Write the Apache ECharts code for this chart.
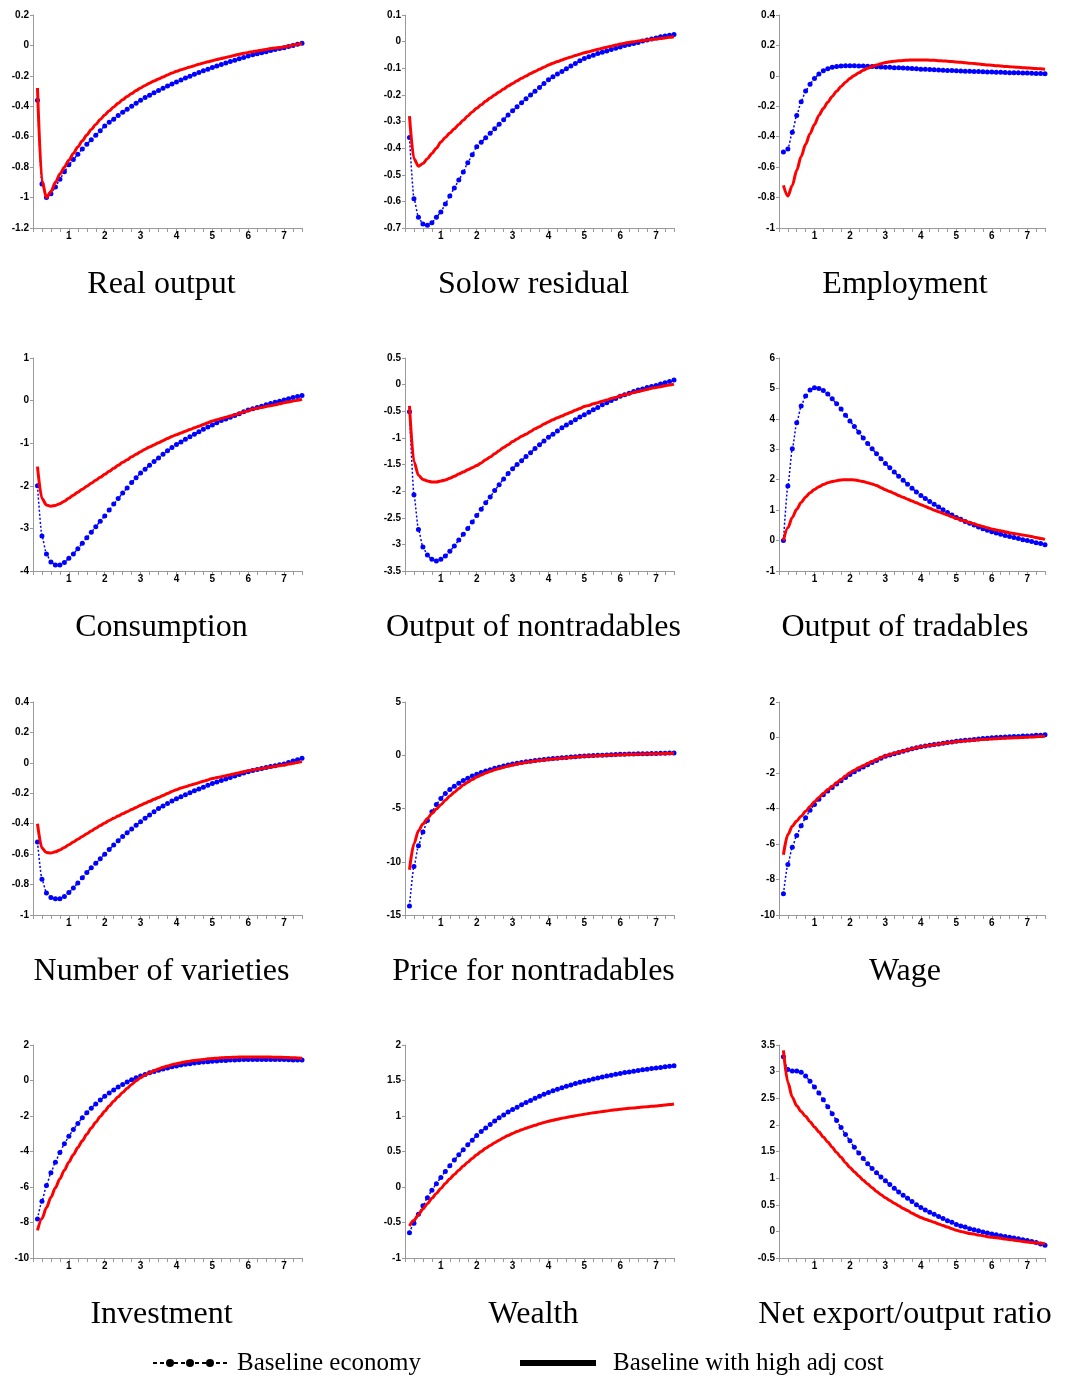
<!DOCTYPE html>
<html>
<head>
<meta charset="utf-8">
<script src="https://cdn.jsdelivr.net/npm/echarts@6/dist/echarts.min.js"></script>
<style>
html,body{margin:0;padding:0;background:#fff;}
#chart{width:1070px;height:1379px;}
</style>
</head>
<body>
<div id="chart"></div>
<script>
// Horizon (years)
const xs = [0.125,0.25,0.375,0.5,0.625,0.75,0.875,1,1.125,1.25,1.375,1.5,1.625,1.75,1.875,2,2.125,2.25,2.375,2.5,2.625,2.75,2.875,3,3.125,3.25,3.375,3.5,3.625,3.75,3.875,4,4.125,4.25,4.375,4.5,4.625,4.75,4.875,5,5.125,5.25,5.375,5.5,5.625,5.75,5.875,6,6.125,6.25,6.375,6.5,6.625,6.75,6.875,7,7.125,7.25,7.375,7.5];
const xTickLabels = ['1','2','3','4','5','6','7'];

const realOutputBase = [-0.36,-0.91,-1.00,-0.975,-0.93,-0.88,-0.83,-0.785,
 -0.75,-0.715,-0.68,-0.65,-0.62,-0.59,-0.56,-0.53,
 -0.505,-0.485,-0.46,-0.44,-0.42,-0.40,-0.38,-0.36,
 -0.343,-0.327,-0.311,-0.296,-0.281,-0.267,-0.253,-0.24,
 -0.227,-0.214,-0.202,-0.19,-0.178,-0.167,-0.156,-0.145,
 -0.135,-0.125,-0.115,-0.106,-0.097,-0.088,-0.079,-0.07,
 -0.062,-0.055,-0.048,-0.041,-0.034,-0.027,-0.021,-0.015,
 -0.007,0.0,0.008,0.015];
const realOutputHigh = [-0.28,-0.89,-1.0,-0.96,-0.90,-0.845,-0.80,-0.755,
 -0.71,-0.667,-0.627,-0.589,-0.553,-0.519,-0.487,-0.457,
 -0.43,-0.404,-0.38,-0.357,-0.336,-0.316,-0.297,-0.279,
 -0.263,-0.248,-0.234,-0.22,-0.207,-0.194,-0.182,-0.17,
 -0.16,-0.151,-0.142,-0.133,-0.124,-0.116,-0.108,-0.10,
 -0.093,-0.086,-0.079,-0.072,-0.065,-0.058,-0.052,-0.046,
 -0.041,-0.036,-0.031,-0.026,-0.021,-0.017,-0.013,-0.01,
 -0.004,0.002,0.008,0.013];

const solowBase = [-0.36,-0.59,-0.66,-0.685,-0.69,-0.68,-0.66,-0.64,
 -0.61,-0.58,-0.55,-0.52,-0.49,-0.455,-0.425,-0.395,
 -0.378,-0.361,-0.344,-0.327,-0.31,-0.293,-0.276,-0.26,
 -0.245,-0.23,-0.215,-0.2,-0.186,-0.172,-0.157,-0.143,
 -0.132,-0.122,-0.112,-0.102,-0.092,-0.082,-0.072,-0.063,
 -0.057,-0.051,-0.045,-0.04,-0.035,-0.03,-0.025,-0.02,
 -0.015,-0.011,-0.007,-0.003,0.002,0.006,0.01,0.014,
 0.018,0.021,0.024,0.027];
const solowHigh = [-0.28,-0.44,-0.468,-0.458,-0.44,-0.42,-0.40,-0.377,
 -0.36,-0.343,-0.327,-0.311,-0.295,-0.279,-0.264,-0.25,
 -0.237,-0.224,-0.212,-0.2,-0.189,-0.178,-0.167,-0.157,
 -0.147,-0.138,-0.129,-0.12,-0.112,-0.104,-0.096,-0.088,
 -0.081,-0.075,-0.069,-0.063,-0.058,-0.052,-0.047,-0.042,
 -0.038,-0.033,-0.029,-0.025,-0.021,-0.017,-0.013,-0.009,
 -0.006,-0.003,0.0,0.002,0.004,0.006,0.008,0.01,
 0.012,0.014,0.016,0.018];

const employmentBase = [-0.50,-0.48,-0.37,-0.26,-0.17,-0.10,-0.055,-0.018,
 0.012,0.033,0.047,0.056,0.061,0.064,0.066,0.066,
 0.066,0.065,0.064,0.063,0.062,0.06,0.059,0.057,
 0.056,0.054,0.053,0.051,0.05,0.048,0.046,0.044,
 0.043,0.041,0.04,0.039,0.037,0.036,0.035,0.033,
 0.032,0.031,0.03,0.029,0.028,0.027,0.026,0.025,
 0.024,0.023,0.022,0.021,0.02,0.02,0.019,0.018,
 0.017,0.016,0.015,0.014];
const employmentHigh = [-0.72,-0.79,-0.72,-0.62,-0.53,-0.45,-0.38,-0.32,
 -0.26,-0.215,-0.173,-0.135,-0.101,-0.07,-0.042,-0.017,
 0.003,0.021,0.037,0.05,0.062,0.072,0.08,0.087,
 0.092,0.096,0.099,0.101,0.103,0.104,0.105,0.105,
 0.104,0.103,0.102,0.1,0.098,0.096,0.094,0.091,
 0.089,0.086,0.083,0.081,0.078,0.075,0.072,0.07,
 0.067,0.065,0.062,0.06,0.058,0.056,0.054,0.052,
 0.05,0.048,0.046,0.044];

const consumptionBase = [-2.0,-3.18,-3.6,-3.79,-3.86,-3.86,-3.8,-3.7,
 -3.6,-3.48,-3.35,-3.22,-3.09,-2.96,-2.83,-2.71,
 -2.57,-2.43,-2.30,-2.17,-2.05,-1.92,-1.81,-1.70,
 -1.61,-1.52,-1.43,-1.35,-1.26,-1.18,-1.10,-1.03,
 -0.97,-0.91,-0.85,-0.79,-0.73,-0.67,-0.62,-0.57,
 -0.52,-0.47,-0.43,-0.39,-0.35,-0.31,-0.26,-0.22,
 -0.19,-0.16,-0.13,-0.1,-0.07,-0.04,-0.015,0.016,
 0.045,0.07,0.095,0.12];
const consumptionHigh = [-1.55,-2.3,-2.45,-2.48,-2.46,-2.42,-2.36,-2.29,
 -2.22,-2.15,-2.08,-2.01,-1.94,-1.87,-1.8,-1.73,
 -1.66,-1.59,-1.52,-1.45,-1.39,-1.32,-1.26,-1.2,
 -1.14,-1.09,-1.04,-0.99,-0.94,-0.89,-0.84,-0.8,
 -0.76,-0.72,-0.68,-0.64,-0.6,-0.56,-0.52,-0.48,
 -0.45,-0.42,-0.39,-0.36,-0.33,-0.3,-0.27,-0.24,
 -0.2,-0.18,-0.16,-0.14,-0.12,-0.1,-0.075,-0.05,
 -0.03,-0.01,0.01,0.03];

const nontradOutBase = [-0.51,-2.07,-2.72,-3.05,-3.2,-3.28,-3.31,-3.28,
 -3.22,-3.13,-3.03,-2.92,-2.81,-2.70,-2.58,-2.46,
 -2.34,-2.22,-2.11,-1.99,-1.88,-1.77,-1.67,-1.58,
 -1.5,-1.43,-1.35,-1.28,-1.2,-1.13,-1.06,-0.99,
 -0.93,-0.87,-0.81,-0.76,-0.71,-0.66,-0.61,-0.565,
 -0.52,-0.47,-0.43,-0.38,-0.34,-0.3,-0.26,-0.22,
 -0.19,-0.16,-0.13,-0.1,-0.08,-0.055,-0.035,-0.015,
 0.01,0.035,0.06,0.085];
const nontradOutHigh = [-0.4,-1.45,-1.7,-1.78,-1.81,-1.83,-1.83,-1.81,
 -1.79,-1.76,-1.72,-1.68,-1.64,-1.6,-1.56,-1.52,
 -1.47,-1.41,-1.36,-1.3,-1.24,-1.18,-1.13,-1.07,
 -1.02,-0.97,-0.93,-0.88,-0.83,-0.79,-0.74,-0.7,
 -0.66,-0.62,-0.59,-0.55,-0.52,-0.48,-0.45,-0.41,
 -0.39,-0.36,-0.34,-0.31,-0.29,-0.26,-0.24,-0.21,
 -0.19,-0.17,-0.15,-0.13,-0.11,-0.09,-0.07,-0.054,
 -0.038,-0.022,-0.006,0.01];

const tradOutBase = [0.0,1.79,3.02,3.87,4.42,4.75,4.95,5.02,
 5.0,4.93,4.82,4.66,4.5,4.32,4.12,3.93,
 3.75,3.56,3.37,3.19,3.02,2.85,2.69,2.53,
 2.39,2.25,2.11,1.98,1.85,1.72,1.6,1.48,
 1.38,1.28,1.19,1.1,1.01,0.92,0.84,0.76,
 0.7,0.63,0.57,0.51,0.45,0.39,0.34,0.29,
 0.25,0.21,0.17,0.13,0.1,0.07,0.03,0.0,
 -0.03,-0.07,-0.1,-0.14];
const tradOutHigh = [0.0,0.42,0.76,1.03,1.25,1.43,1.57,1.68,
 1.77,1.84,1.9,1.94,1.97,1.99,2.0,2.0,
 1.99,1.97,1.94,1.9,1.86,1.81,1.74,1.67,
 1.61,1.55,1.48,1.42,1.36,1.3,1.24,1.18,
 1.12,1.06,1.0,0.95,0.89,0.84,0.78,0.73,
 0.68,0.64,0.59,0.55,0.5,0.46,0.42,0.38,
 0.35,0.32,0.29,0.26,0.23,0.21,0.18,0.16,
 0.13,0.1,0.07,0.04];

const varietiesBase = [-0.52,-0.765,-0.855,-0.885,-0.893,-0.893,-0.878,-0.852,
 -0.822,-0.79,-0.755,-0.72,-0.69,-0.66,-0.63,-0.6,
 -0.57,-0.54,-0.512,-0.484,-0.459,-0.434,-0.41,-0.387,
 -0.364,-0.342,-0.321,-0.3,-0.283,-0.267,-0.251,-0.236,
 -0.223,-0.21,-0.197,-0.184,-0.172,-0.16,-0.148,-0.136,
 -0.126,-0.116,-0.106,-0.096,-0.086,-0.077,-0.067,-0.058,
 -0.051,-0.044,-0.037,-0.03,-0.024,-0.019,-0.013,-0.008,
 0.002,0.012,0.021,0.03];
const varietiesHigh = [-0.40,-0.56,-0.59,-0.593,-0.585,-0.572,-0.556,-0.538,
 -0.52,-0.502,-0.484,-0.466,-0.448,-0.43,-0.412,-0.395,
 -0.379,-0.364,-0.349,-0.335,-0.321,-0.307,-0.293,-0.279,
 -0.266,-0.253,-0.24,-0.227,-0.214,-0.201,-0.188,-0.176,
 -0.166,-0.157,-0.148,-0.139,-0.13,-0.121,-0.112,-0.103,
 -0.097,-0.091,-0.084,-0.078,-0.071,-0.065,-0.058,-0.052,
 -0.047,-0.042,-0.037,-0.032,-0.028,-0.023,-0.018,-0.014,
 -0.008,-0.003,0.003,0.008];

const priceNontradBase = [-14.15,-10.45,-8.5,-7.2,-6.12,-5.3,-4.62,-4.05,
 -3.6,-3.22,-2.9,-2.62,-2.38,-2.16,-1.96,-1.78,
 -1.62,-1.48,-1.35,-1.23,-1.12,-1.02,-0.92,-0.83,
 -0.76,-0.69,-0.62,-0.56,-0.5,-0.45,-0.4,-0.35,
 -0.31,-0.27,-0.23,-0.2,-0.16,-0.13,-0.1,-0.07,
 -0.05,-0.03,-0.01,0.01,0.03,0.05,0.07,0.09,
 0.1,0.11,0.12,0.13,0.14,0.15,0.16,0.17,
 0.18,0.19,0.2,0.21];
const priceNontradHigh = [-10.75,-8.3,-7.1,-6.45,-5.93,-5.48,-5.05,-4.65,
 -4.22,-3.83,-3.47,-3.12,-2.8,-2.53,-2.28,-2.05,
 -1.85,-1.67,-1.51,-1.37,-1.24,-1.12,-1.01,-0.91,
 -0.82,-0.74,-0.67,-0.6,-0.54,-0.49,-0.44,-0.39,
 -0.35,-0.31,-0.27,-0.23,-0.2,-0.16,-0.13,-0.1,
 -0.08,-0.06,-0.04,-0.02,0.0,0.02,0.03,0.05,
 0.06,0.07,0.08,0.1,0.11,0.12,0.13,0.14,
 0.15,0.16,0.17,0.18];

const wageBase = [-8.8,-7.15,-6.18,-5.52,-4.97,-4.52,-4.1,-3.77,
 -3.48,-3.23,-3.01,-2.81,-2.62,-2.44,-2.26,-2.08,
 -1.93,-1.79,-1.66,-1.53,-1.41,-1.29,-1.17,-1.06,
 -0.98,-0.91,-0.84,-0.77,-0.7,-0.64,-0.58,-0.52,
 -0.48,-0.44,-0.4,-0.36,-0.32,-0.28,-0.25,-0.21,
 -0.19,-0.16,-0.14,-0.11,-0.09,-0.06,-0.04,-0.02,
 0.0,0.01,0.03,0.04,0.05,0.06,0.08,0.09,
 0.1,0.12,0.13,0.15];
const wageHigh = [-6.6,-5.47,-5.0,-4.7,-4.43,-4.16,-3.89,-3.62,
 -3.38,-3.15,-2.94,-2.74,-2.55,-2.36,-2.17,-1.98,
 -1.84,-1.71,-1.59,-1.47,-1.35,-1.24,-1.13,-1.03,
 -0.96,-0.89,-0.82,-0.76,-0.7,-0.64,-0.58,-0.52,
 -0.48,-0.44,-0.41,-0.37,-0.33,-0.3,-0.27,-0.23,
 -0.21,-0.19,-0.17,-0.15,-0.13,-0.11,-0.1,-0.08,
 -0.07,-0.05,-0.04,-0.03,-0.02,-0.01,0.0,0.02,
 0.03,0.04,0.06,0.07];

const investmentBase = [-7.8,-6.8,-5.92,-5.2,-4.6,-4.05,-3.57,-3.14,
 -2.76,-2.42,-2.1,-1.82,-1.56,-1.32,-1.1,-0.89,
 -0.7,-0.53,-0.37,-0.22,-0.09,0.04,0.15,0.25,
 0.34,0.43,0.51,0.58,0.65,0.71,0.77,0.82,
 0.87,0.91,0.95,0.98,1.01,1.04,1.06,1.08,
 1.1,1.12,1.13,1.15,1.16,1.17,1.18,1.18,
 1.19,1.19,1.19,1.19,1.19,1.19,1.18,1.18,
 1.17,1.16,1.16,1.15];
const investmentHigh = [-8.45,-7.78,-7.16,-6.58,-6.04,-5.53,-5.05,-4.6,
 -4.18,-3.78,-3.4,-3.03,-2.68,-2.35,-2.03,-1.73,
 -1.44,-1.17,-0.91,-0.67,-0.44,-0.22,-0.02,0.16,
 0.31,0.44,0.55,0.65,0.74,0.82,0.89,0.95,
 1.0,1.05,1.09,1.13,1.16,1.19,1.22,1.24,
 1.26,1.28,1.29,1.3,1.31,1.32,1.33,1.33,
 1.33,1.33,1.33,1.32,1.32,1.31,1.31,1.3,
 1.29,1.28,1.27,1.26];

const wealthBase = [-0.645,-0.51,-0.385,-0.265,-0.15,-0.045,0.045,0.134,
 0.22,0.3,0.38,0.455,0.525,0.595,0.66,0.725,
 0.78,0.83,0.88,0.93,0.975,1.015,1.055,1.09,
 1.125,1.158,1.19,1.22,1.25,1.278,1.305,1.33,
 1.355,1.377,1.398,1.418,1.437,1.456,1.474,1.49,
 1.505,1.52,1.535,1.549,1.562,1.575,1.587,1.6,
 1.611,1.621,1.631,1.641,1.65,1.659,1.668,1.676,
 1.684,1.692,1.699,1.706];
const wealthHigh = [-0.55,-0.47,-0.39,-0.31,-0.235,-0.16,-0.09,-0.02,
 0.05,0.115,0.177,0.237,0.295,0.35,0.403,0.455,
 0.5,0.545,0.585,0.625,0.66,0.695,0.725,0.755,
 0.78,0.805,0.828,0.85,0.87,0.89,0.908,0.925,
 0.94,0.955,0.968,0.98,0.992,1.003,1.014,1.025,
 1.035,1.045,1.054,1.063,1.072,1.08,1.088,1.095,
 1.102,1.108,1.114,1.12,1.126,1.131,1.136,1.141,
 1.148,1.155,1.162,1.17];

const netExportBase = [3.28,3.04,3.01,3.01,2.99,2.92,2.82,2.71,
 2.6,2.47,2.34,2.21,2.08,1.95,1.82,1.7,
 1.58,1.47,1.37,1.27,1.18,1.1,1.02,0.95,
 0.88,0.81,0.74,0.68,0.62,0.56,0.5,0.45,
 0.4,0.36,0.32,0.28,0.24,0.2,0.17,0.13,
 0.1,0.08,0.05,0.03,0.01,-0.01,-0.03,-0.05,
 -0.065,-0.08,-0.095,-0.11,-0.125,-0.14,-0.155,-0.17,
 -0.19,-0.21,-0.235,-0.26];
const netExportHigh = [3.4,2.8,2.52,2.36,2.25,2.16,2.06,1.96,
 1.87,1.77,1.68,1.58,1.48,1.39,1.29,1.2,
 1.12,1.04,0.96,0.89,0.82,0.75,0.69,0.63,
 0.58,0.53,0.48,0.43,0.39,0.34,0.3,0.26,
 0.23,0.2,0.17,0.14,0.11,0.08,0.05,0.02,
 0.0,-0.02,-0.04,-0.05,-0.07,-0.08,-0.1,-0.11,
 -0.12,-0.13,-0.145,-0.155,-0.165,-0.175,-0.19,-0.2,
 -0.208,-0.215,-0.222,-0.23];

const panelTitles = ['Real output','Solow residual','Employment','Consumption','Output of nontradables','Output of tradables','Number of varieties','Price for nontradables','Wage','Investment','Wealth','Net export/output ratio'];
const baseSeries = [realOutputBase,solowBase,employmentBase,consumptionBase,nontradOutBase,tradOutBase,varietiesBase,priceNontradBase,wageBase,investmentBase,wealthBase,netExportBase];
const highSeries = [realOutputHigh,solowHigh,employmentHigh,consumptionHigh,nontradOutHigh,tradOutHigh,varietiesHigh,priceNontradHigh,wageHigh,investmentHigh,wealthHigh,netExportHigh];
const yMin = [-1.2,-0.7,-1,-4,-3.5,-1,-1,-15,-10,-10,-1,-0.5];
const yMax = [0.2,0.1,0.4,1,0.5,6,0.4,5,2,2,2,3.5];
const yStep = [0.2,0.1,0.2,1,0.5,1,0.2,5,2,2,0.5,0.5];
const legendNames = ['Baseline economy','Baseline with high adj cost'];

// layout (styles, not data)
const colLeft = [33, 405, 779];
const colWidth = [269, 269, 266];
const rowTop = [15, 358, 702, 1045];
const plotH = 213;
const titleX = [161.5, 533.5, 905];
const titleY = [285, 628, 972, 1315];

[...baseSeries, ...highSeries].forEach((a, i) => { if (a.length !== xs.length) throw new Error('len ' + i + ' ' + a.length); });

const axisGray = '#9a9a9a';
const grids = [], xAxes = [], yAxes = [], series = [], graphics = [];
for (let i = 0; i < 12; i++) {
  const r = Math.floor(i / 3), c = i % 3;
  grids.push({left: colLeft[c], top: rowTop[r], width: colWidth[c], height: plotH, containLabel: false});
  xAxes.push({
    type: 'value', gridIndex: i, min: 0, max: 7.5, interval: 0.25,
    axisLine: {onZero: false, lineStyle: {color: axisGray, width: 1}},
    axisTick: {show: true, inside: false, length: 4, lineStyle: {color: axisGray}},
    splitLine: {show: false},
    axisLabel: {
      margin: 3, color: '#000', fontFamily: 'Liberation Sans, Arial, sans-serif', fontWeight: 'bold', fontSize: 10,
      formatter: v => { const k = Math.round(v); return (Math.abs(v - k) < 1e-6 && k >= 1 && k <= 7) ? xTickLabels[k - 1] : ''; }
    }
  });
  yAxes.push({
    type: 'value', gridIndex: i, min: yMin[i], max: yMax[i], interval: yStep[i],
    axisLine: {show: true, lineStyle: {color: axisGray, width: 1}},
    axisTick: {show: true, inside: false, length: 3, lineStyle: {color: axisGray}},
    splitLine: {show: false},
    axisLabel: {
      margin: 4, color: '#000', fontFamily: 'Liberation Sans, Arial, sans-serif', fontWeight: 'bold', fontSize: 10,
      formatter: v => String(parseFloat(v.toFixed(3)))
    }
  });
  series.push({
    name: legendNames[0], type: 'line', xAxisIndex: i, yAxisIndex: i,
    data: xs.map((x, k) => [x, baseSeries[i][k]]),
    symbol: 'circle', symbolSize: 5, showSymbol: true,
    smooth: 0.2, smoothMonotone: 'x',
    itemStyle: {color: '#0000ff'},
    lineStyle: {color: '#0000ff', width: 1.5, type: [2, 2]},
    z: 2, animation: false
  });
  series.push({
    name: legendNames[1], type: 'line', xAxisIndex: i, yAxisIndex: i,
    data: xs.map((x, k) => [x, highSeries[i][k]]),
    symbol: 'none',
    smooth: 0.3, smoothMonotone: 'x',
    lineStyle: {color: '#ff0000', width: 3},
    z: 3, animation: false
  });
  graphics.push({
    type: 'text', x: titleX[c], y: titleY[r],
    style: {text: panelTitles[i], font: '32px "Liberation Serif", "DejaVu Serif", serif', fill: '#000', textAlign: 'center', textVerticalAlign: 'middle'}
  });
}

// legend drawn as graphics
graphics.push({type: 'line', shape: {x1: 153, y1: 1363, x2: 229, y2: 1363}, style: {stroke: '#000', lineWidth: 2, lineDash: [4, 3]}});
[170, 190, 210].forEach(cx => graphics.push({type: 'circle', shape: {cx: cx, cy: 1363, r: 4}, style: {fill: '#000'}}));
graphics.push({type: 'text', x: 237, y: 1363, style: {text: legendNames[0], font: '25px "Liberation Serif", "DejaVu Serif", serif', fill: '#000', textAlign: 'left', textVerticalAlign: 'middle'}});
graphics.push({type: 'line', shape: {x1: 520, y1: 1363, x2: 596, y2: 1363}, style: {stroke: '#000', lineWidth: 6}});
graphics.push({type: 'text', x: 613, y: 1363, style: {text: legendNames[1], font: '25px "Liberation Serif", "DejaVu Serif", serif', fill: '#000', textAlign: 'left', textVerticalAlign: 'middle'}});

const chart = echarts.init(document.getElementById('chart'), null, {renderer: 'canvas'});
chart.setOption({
  animation: false,
  backgroundColor: '#fff',
  grid: grids, xAxis: xAxes, yAxis: yAxes, series: series,
  graphic: graphics
});
</script>
</body>
</html>
